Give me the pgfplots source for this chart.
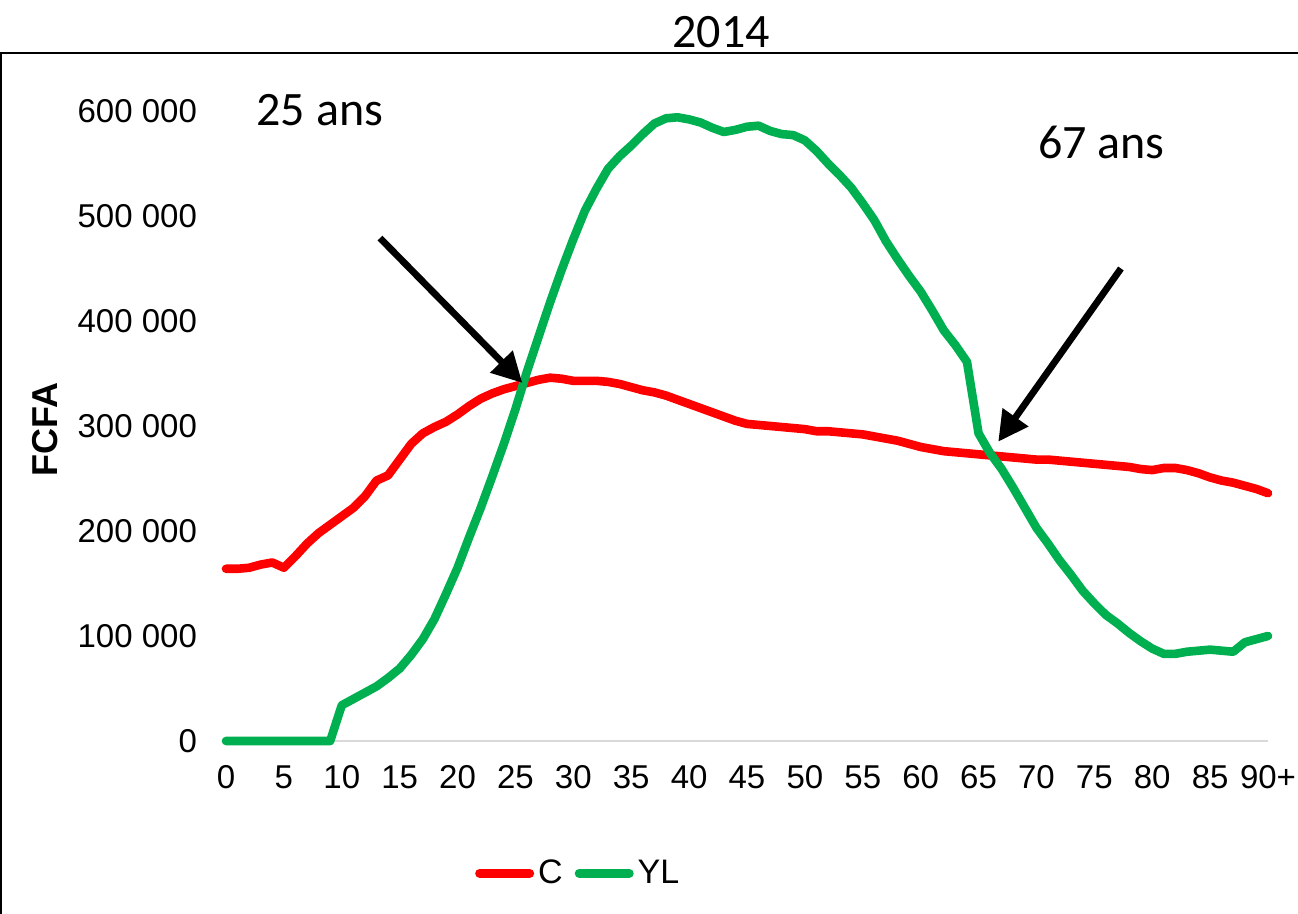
\documentclass[border=0pt]{standalone}
\usepackage{pgfplots}
\pgfplotsset{compat=1.18}
\usepackage{pgfplotstable}
\usetikzlibrary{arrows.meta}
\usepackage{fontspec}
\setmainfont{Liberation Sans}
\newfontfamily\calibri{Carlito}
\definecolor{cred}{HTML}{FF0000}
\definecolor{cgreen}{HTML}{00B050}
\definecolor{baseline}{HTML}{D9D9D9}

\pgfplotstableread{
age C YL
0 164 0
1 164 0
2 165 0
3 168 0
4 170 0
5 165 0
6 176 0
7 188 0
8 198 0
9 206 0
10 214 34
11 222 40
12 233 46
13 248 52
14 253 60
15 268 69
16 283 82
17 293 97
18 299 116
19 304 140
20 311 165
21 319 194
22 326 222
23 331 252
24 335 283
25 338 316
26 341 352
27 344 385
28 346 418
29 345 449
30 343 478
31 343 505
32 343 526
33 342 545
34 340 557
35 337 567
36 334 578
37 332 588
38 329 593
39 325 594
40 321 592
41 317 589
42 313 584
43 309 580
44 305 582
45 302 585
46 301 586
47 300 581
48 299 578
49 298 577
50 297 572
51 295 562
52 295 550
53 294 539
54 293 527
55 292 512
56 290 496
57 288 476
58 286 459
59 283 443
60 280 428
61 278 410
62 276 391
63 275 377
64 274 361
65 273 293
66 272 274
67 271 259
68 270 241
69 269 222
70 268 203
71 268 188
72 267 172
73 266 158
74 265 143
75 264 131
76 263 120
77 262 112
78 261 103
79 259 95
80 258 88
81 260 83
82 260 83
83 258 85
84 255 86
85 251 87
86 248 86
87 246 85
88 243 94
89 240 97
90 236 100
}\datatable

\begin{document}
\begin{tikzpicture}
\useasboundingbox (0,0) rectangle (649pt,457pt);
\draw[line width=0.9pt] (0.5pt,-5pt) -- (0.5pt,430.5pt) -- (660pt,430.5pt);
\node[font=\calibri\fontsize{24}{28}\selectfont] at (360.5pt,441pt) {2014};
\begin{axis}[
  at={(113pt,86.5pt)}, anchor=south west, scale only axis,
  width=521pt, height=315pt,
  xmin=0, xmax=90, ymin=0, ymax=600000,
  clip=false,
  axis x line*=bottom, axis y line*=left,
  x axis line style={draw=baseline, line width=1pt, -},
  y axis line style={draw=none},
  major tick length=0pt,
  xtick={0,5,...,90},
  xticklabels={0,5,10,15,20,25,30,35,40,45,50,55,60,65,70,75,80,85,90+},
  ytick={0,100000,...,600000},
  yticklabels={0,100 000,200 000,300 000,400 000,500 000,600 000},
  scaled y ticks=false,
  xticklabel style={font=\fontsize{16.5}{19}\selectfont, text height=12pt, text depth=0pt, yshift=-8pt},
  yticklabel style={font=\fontsize{16.5}{19}\selectfont, xshift=-11pt},
  ylabel={FCFA},
  every axis y label/.style={at={(axis description cs:-0.1737,0.494)}, rotate=90, anchor=center, font=\bfseries\fontsize{18}{21}\selectfont},
  legend style={at={(0.339,-0.21)}, anchor=center, draw=none, fill=none,
    legend columns=2, font=\fontsize{17}{20}\selectfont,
    /tikz/every even column/.append style={column sep=4pt}},
  legend image code/.code={\draw[#1, line width=4.5pt, line cap=round] (0pt,0pt) -- (25pt,0pt);},
]
\addplot[cred, line width=4.3pt, line join=round, line cap=round] table[x=age, y expr=\thisrow{C}*1000] {\datatable};
\addlegendentry{C}
\addplot[cgreen, line width=4.3pt, line join=round, line cap=round] table[x=age, y expr=\thisrow{YL}*1000] {\datatable};
\addlegendentry{YL}
\draw[line width=3.4pt, -{Triangle[length=15pt,width=15pt]}] (axis cs:13.3,479000) -- (axis cs:25.6,341000);
\draw[line width=3.4pt, -{Triangle[length=15pt,width=15pt]}] (axis cs:77.3,450000) -- (axis cs:66.7,285000);
\node[font=\calibri\fontsize{24}{28}\selectfont] at (axis cs:8.1,601000) {25 ans};
\node[font=\calibri\fontsize{24}{28}\selectfont] at (axis cs:75.6,570000) {67 ans};
\end{axis}
\end{tikzpicture}
\end{document}
